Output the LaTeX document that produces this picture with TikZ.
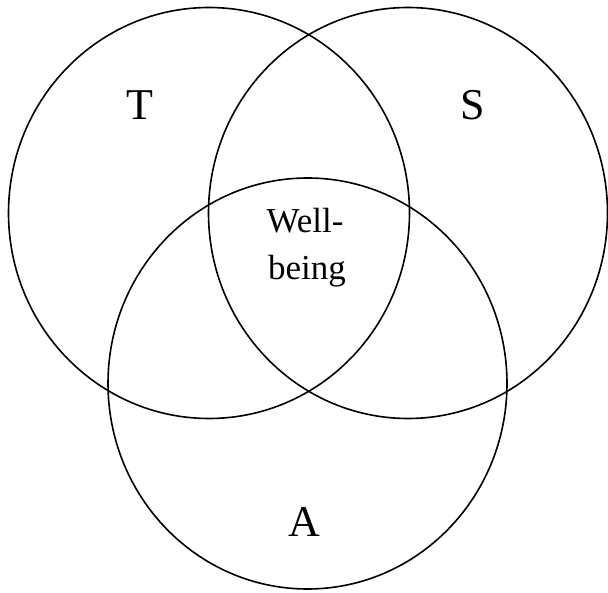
\documentclass[tikz,border=0pt]{standalone}
\usepackage{fontspec}
\setmainfont{Liberation Serif}
\usetikzlibrary{shapes.geometric}
\begin{document}
\begin{tikzpicture}[x=1pt,y=1pt,
  ring/.style={draw=black, line width=1.6pt, ellipse, inner sep=0pt, outer sep=0pt},
  big/.style={font=\fontsize{44}{48}\selectfont, anchor=base, inner sep=0pt},
  mid/.style={font=\fontsize{35}{40}\selectfont, anchor=base, inner sep=0pt}]
\useasboundingbox (0,0) rectangle (608,592);
\node[ring, minimum width=401pt, minimum height=411pt] (cT) at (209,379) {};
\node[ring, minimum width=399pt, minimum height=411pt] (cS) at (408,379) {};
\node[ring, minimum width=399pt, minimum height=411pt] (cA) at (307.5,208.5) {};
\node[big] (lT) at (140,472) {T};
\node[big] (lS) at (473,472) {S};
\node[big] (lA) at (304,55) {A};
\node[mid] (w1) at (305,359) {Well-};
\node[mid] (w2) at (307,312) {being};
\end{tikzpicture}
\end{document}
